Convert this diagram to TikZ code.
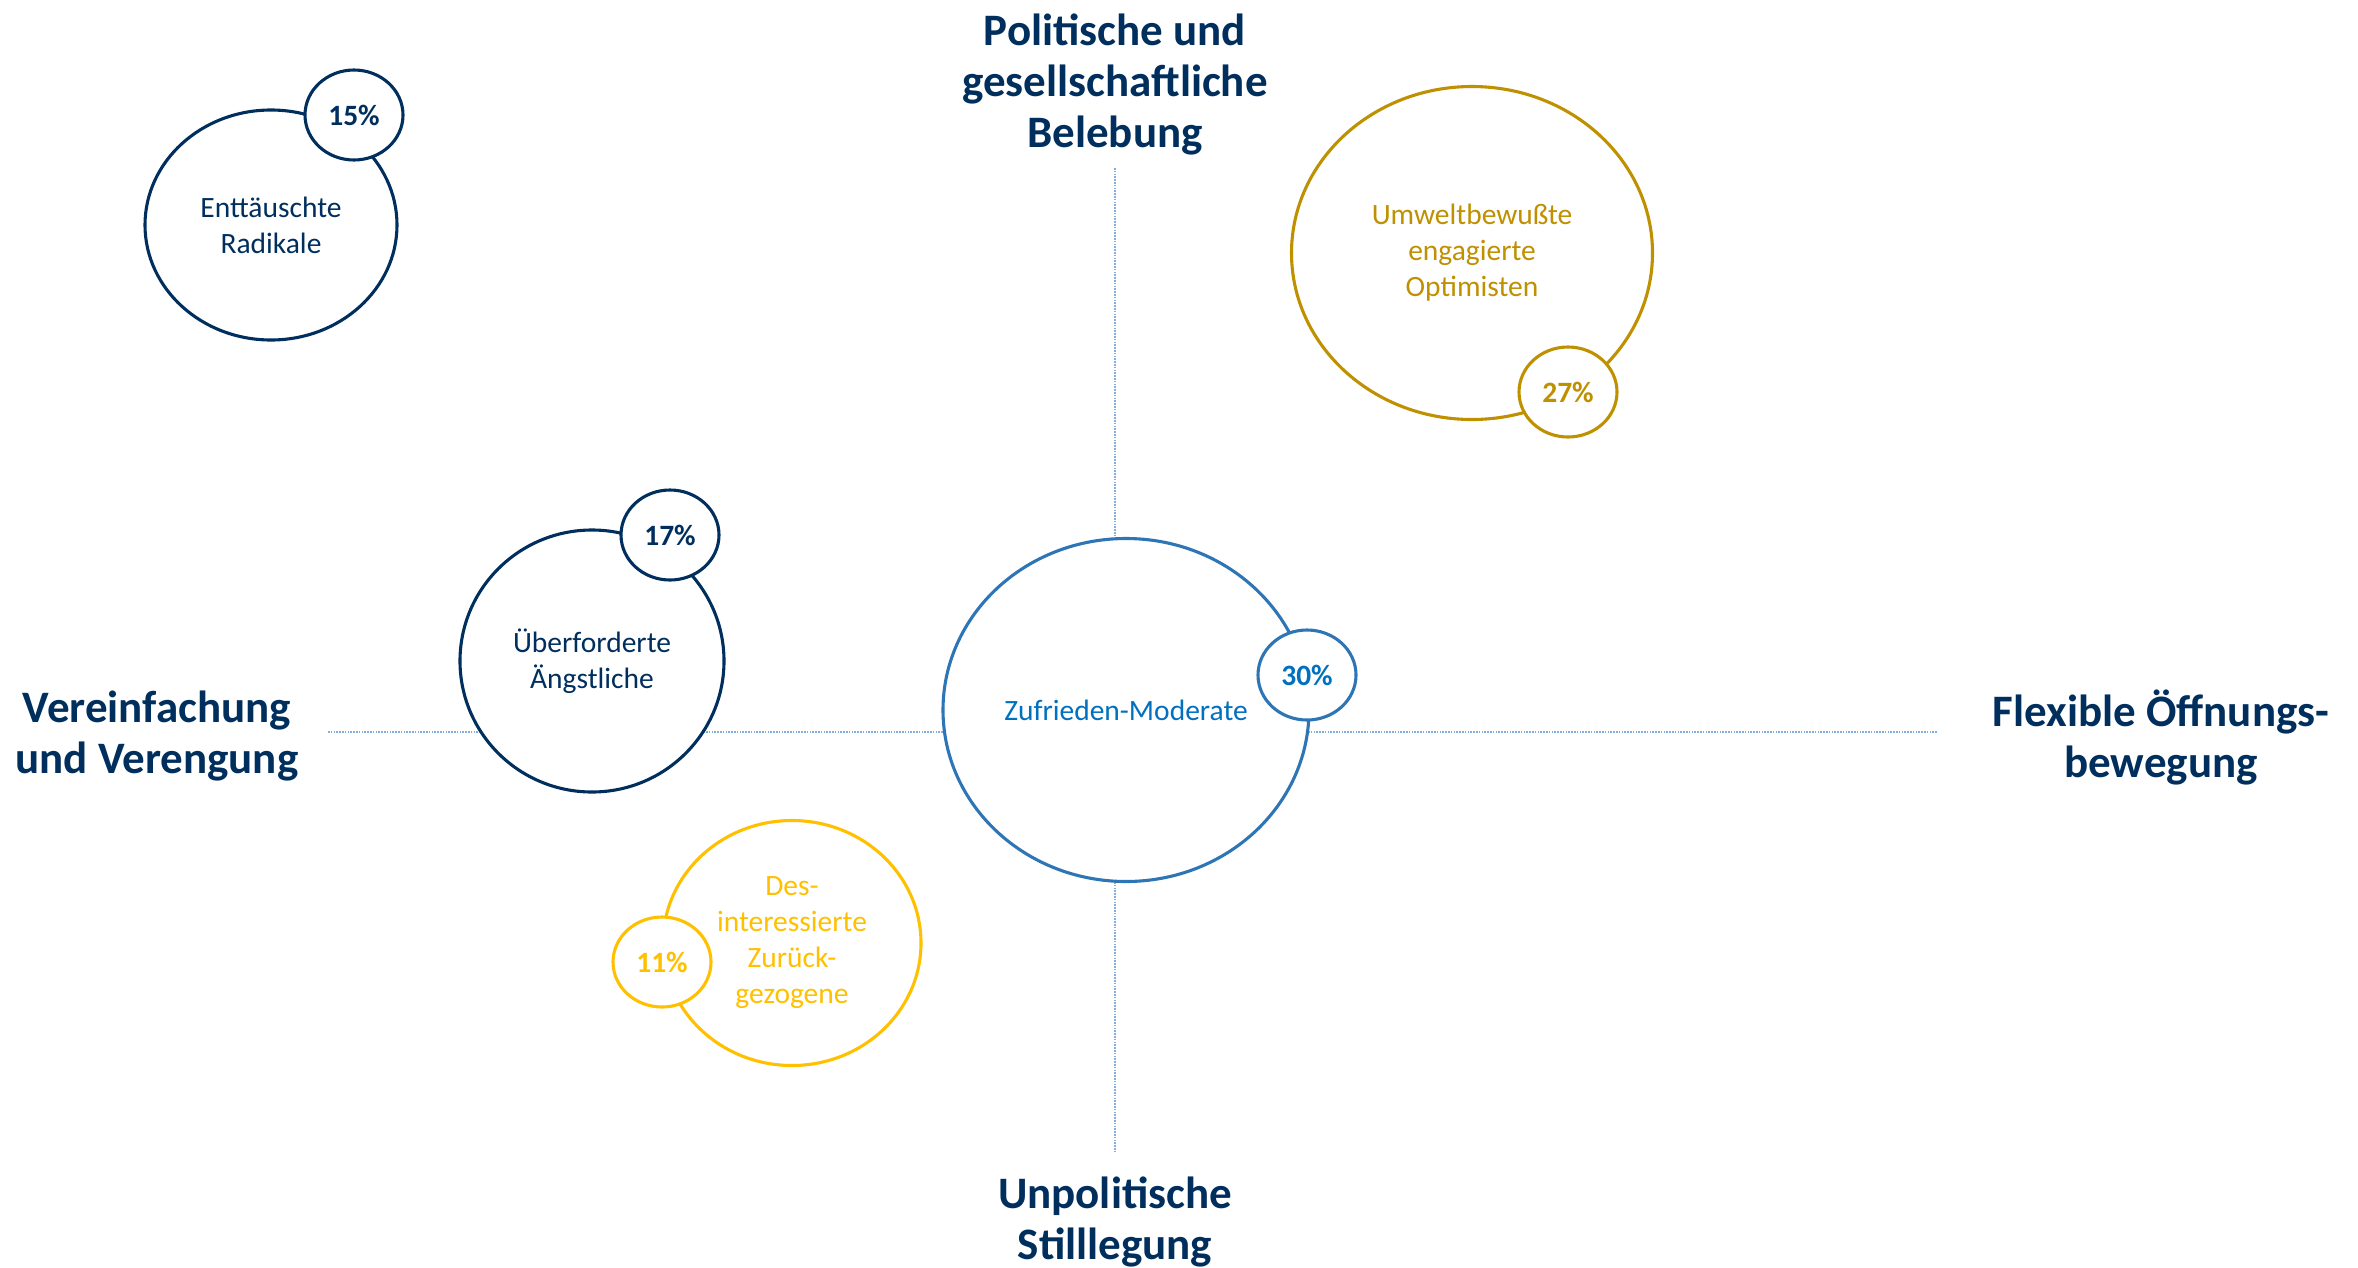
\documentclass[tikz,border=0pt]{standalone}
\usepackage{fontspec}
\setmainfont{Carlito}
\usetikzlibrary{shapes.geometric}
\definecolor{navy}{RGB}{0,47,94}
\definecolor{midblue}{RGB}{46,117,182}
\definecolor{textblue}{RGB}{0,112,192}
\definecolor{ochre}{RGB}{191,144,0}
\definecolor{amber}{RGB}{255,192,0}
\definecolor{axisblue}{RGB}{130,175,220}

\begin{document}
\begin{tikzpicture}[x=1pt,y=-1pt,
  axis/.style={axisblue,line width=1.6pt,dash pattern=on 1.6pt off 1.2pt},
  pole/.style={text=navy,anchor=base,align=center,inner sep=0pt,font=\bfseries\fontsize{45}{51}\selectfont},
  group/.style={ellipse,draw,fill=white,line width=3.1pt,inner sep=0pt,align=center,font=\fontsize{29.5}{36}\selectfont},
  share/.style={ellipse,draw,fill=white,line width=3.1pt,inner sep=0pt,minimum width=98pt,minimum height=90pt,font=\bfseries\fontsize{29.5}{30}\selectfont}]
\useasboundingbox (0,0) rectangle (2358,1267);

% axes
\coordinate (ax-l) at (328,732);
\coordinate (ax-r) at (1937,732);
\coordinate (ax-t) at (1115,168);
\coordinate (ax-b) at (1115,1153);
\draw[axis] (ax-l) -- (ax-r);
\draw[axis] (ax-t) -- (ax-b);

% poles (base = last line)
\node[pole] (pol-top) at (1115,147) {Politische und\\gesellschaftliche\\Belebung};
\node[pole] (pol-bot) at (1115,1259) {Unpolitische\\Stilllegung};
\node[pole] (pol-lft) at (157,773) {Vereinfachung\\und Verengung};
\node[pole] (pol-rgt) at (2161,777) {Flexible Öffnungs-\\bewegung};

% groups
\node[group,draw=navy,text=navy,minimum width=252pt,minimum height=230pt] (radikale) at (271,225) {Enttäuschte\\Radikale};
\node[share,draw=navy,text=navy] (p-radikale) at (354,115) {15\%};

\node[group,draw=ochre,text=ochre,minimum width=361pt,minimum height=333pt] (umwelt) at (1472,253) {Umweltbewußte\\engagierte\\Optimisten};
\node[share,draw=ochre,text=ochre] (p-umwelt) at (1568,392) {27\%};

\node[group,draw=midblue,text=textblue,minimum width=366pt,minimum height=343pt] (moderat) at (1126,710) {Zufrieden-Moderate};
\node[share,draw=midblue,text=textblue] (p-moderat) at (1307,675) {30\%};

\node[group,draw=navy,text=navy,minimum width=264pt,minimum height=262pt] (angst) at (592,661) {Überforderte\\Ängstliche};
\node[share,draw=navy,text=navy] (p-angst) at (670,535) {17\%};

\node[group,draw=amber,text=amber,minimum width=258pt,minimum height=245pt] (rueckzug) at (792,943) {Des-\\interessierte\\Zurück-\\gezogene};
\node[share,draw=amber,text=amber] (p-rueckzug) at (662,962) {11\%};
\end{tikzpicture}
\end{document}
